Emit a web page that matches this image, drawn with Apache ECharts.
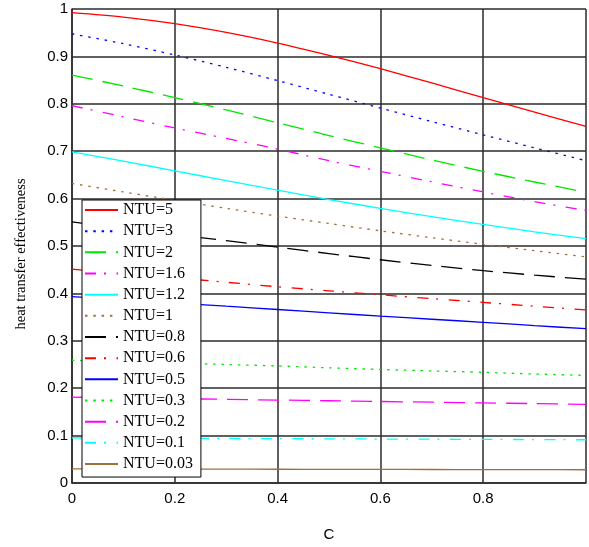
<!DOCTYPE html>
<html>
<head>
<meta charset="utf-8">
<script src="https://cdn.jsdelivr.net/npm/echarts@6/dist/echarts.min.js"></script>
<style>
  html, body { margin: 0; padding: 0; background: #ffffff; }
  #chart { width: 589px; height: 547px; }
</style>
</head>
<body>
<div id="chart"></div>
<script>
// Capacity ratio C (x axis)
const capacityRatio = [0, 0.1, 0.2, 0.3, 0.4, 0.5, 0.6, 0.7, 0.8, 0.9, 1.0];

// Effectiveness for each NTU value
const ntu5   = [0.9925, 0.9830, 0.9690, 0.9505, 0.9280, 0.9020, 0.8740, 0.8440, 0.8130, 0.7825, 0.7525];
const ntu3   = [0.9476, 0.9268, 0.9030, 0.8770, 0.8490, 0.8200, 0.7910, 0.7625, 0.7345, 0.7070, 0.6800];
const ntu2   = [0.8605, 0.8375, 0.8130, 0.7870, 0.7600, 0.7330, 0.7070, 0.6815, 0.6575, 0.6350, 0.6135];
const ntu1_6 = [0.7960, 0.7725, 0.7490, 0.7270, 0.7045, 0.6800, 0.6575, 0.6355, 0.6140, 0.5935, 0.5750];
const ntu1_2 = [0.6985, 0.6790, 0.6585, 0.6380, 0.6180, 0.5980, 0.5795, 0.5620, 0.5455, 0.5300, 0.5155];
const ntu1   = [0.6320, 0.6140, 0.5965, 0.5795, 0.5630, 0.5475, 0.5320, 0.5175, 0.5035, 0.4900, 0.4770];
const ntu0_8 = [0.5507, 0.5370, 0.5240, 0.5115, 0.4975, 0.4840, 0.4710, 0.4590, 0.4480, 0.4385, 0.4300];
const ntu0_6 = [0.4510, 0.4420, 0.4330, 0.4235, 0.4140, 0.4055, 0.3970, 0.3890, 0.3810, 0.3730, 0.3650];
const ntu0_5 = [0.3930, 0.3865, 0.3800, 0.3730, 0.3660, 0.3590, 0.3520, 0.3455, 0.3390, 0.3320, 0.3255];
const ntu0_3 = [0.2590, 0.2560, 0.2530, 0.2500, 0.2470, 0.2430, 0.2395, 0.2365, 0.2335, 0.2300, 0.2270];
const ntu0_2 = [0.1810, 0.1795, 0.1780, 0.1765, 0.1750, 0.1735, 0.1720, 0.1705, 0.1690, 0.1675, 0.1660];
const ntu0_1 = [0.0950, 0.0947, 0.0944, 0.0940, 0.0936, 0.0932, 0.0928, 0.0924, 0.0920, 0.0916, 0.0912];
const ntu0_03 = [0.0298, 0.0296, 0.0294, 0.0292, 0.0290, 0.0288, 0.0287, 0.0285, 0.0283, 0.0281, 0.0280];

const seriesNames = ['NTU=5', 'NTU=3', 'NTU=2', 'NTU=1.6', 'NTU=1.2', 'NTU=1',
  'NTU=0.8', 'NTU=0.6', 'NTU=0.5', 'NTU=0.3', 'NTU=0.2', 'NTU=0.1', 'NTU=0.03'];
const seriesValues = [ntu5, ntu3, ntu2, ntu1_6, ntu1_2, ntu1,
  ntu0_8, ntu0_6, ntu0_5, ntu0_3, ntu0_2, ntu0_1, ntu0_03];

const xTicks = [0, 0.2, 0.4, 0.6, 0.8];
const yTicks = [0, 0.1, 0.2, 0.3, 0.4, 0.5, 0.6, 0.7, 0.8, 0.9, 1];

// Line appearance: colour and dash pattern per curve
const DOT = [2.5, 5.8];
const DASH = [21, 10];
const DASHDOT = [11, 8, 2, 10.5];
const styles = [
  { color: '#ff0000', type: 'solid' },
  { color: '#0000ff', type: DOT },
  { color: '#00e600', type: DASH },
  { color: '#ff00ff', type: DASHDOT },
  { color: '#00ffff', type: 'solid' },
  { color: '#a0703c', type: DOT },
  { color: '#000000', type: DASH },
  { color: '#ff0000', type: DASHDOT },
  { color: '#0000ff', type: 'solid' },
  { color: '#00e600', type: DOT },
  { color: '#ff00ff', type: DASH },
  { color: '#00ffff', type: DASHDOT },
  { color: '#a0703c', type: 'solid' }
];

const tickFont = "'Liberation Sans', Arial, sans-serif";
const serifFont = "'Liberation Serif', 'Times New Roman', serif";
const gridColor = '#2b2b2b';

const series = seriesNames.map((name, i) => ({
  name: name,
  type: 'line',
  data: capacityRatio.map((c, j) => [c, seriesValues[i][j]]),
  symbol: 'none',
  smooth: 0.3,
  z: 3,
  lineStyle: { color: styles[i].color, type: styles[i].type, width: 1.3 },
  itemStyle: { color: styles[i].color }
}));

const chart = echarts.init(document.getElementById('chart'), null, { renderer: 'canvas' });
chart.setOption({
  animation: false,
  backgroundColor: '#ffffff',
  grid: { left: 72, top: 9, width: 516, height: 477, containLabel: false },
  xAxis: {
    type: 'value',
    min: 0, max: 1, interval: 0.2,
    name: 'C',
    nameLocation: 'middle',
    nameGap: 44,
    nameTextStyle: { fontFamily: tickFont, fontSize: 15, color: '#000' },
    axisLine: { show: true, lineStyle: { color: gridColor, width: 1.5 } },
    axisTick: { show: false },
    axisLabel: {
      margin: 8, color: '#000', fontFamily: tickFont, fontSize: 15,
      formatter: v => (xTicks.some(t => Math.abs(t - v) < 1e-9) ? String(+v.toFixed(1)) : '')
    },
    splitLine: { show: true, lineStyle: { color: gridColor, width: 1.5 } }
  },
  yAxis: {
    type: 'value',
    min: 0, max: 1, interval: 0.1,
    axisLine: { show: true, lineStyle: { color: gridColor, width: 1.5 } },
    axisTick: { show: false },
    axisLabel: {
      margin: 4, color: '#000', fontFamily: tickFont, fontSize: 15,
      formatter: v => (yTicks.some(t => Math.abs(t - v) < 1e-9) ? String(+v.toFixed(1)) : '')
    },
    splitLine: { show: true, lineStyle: { color: gridColor, width: 1.5 } }
  },
  legend: {
    data: seriesNames,
    orient: 'vertical',
    left: 82, top: 200,
    itemWidth: 33, itemHeight: 14, itemGap: 5.17,
    padding: [2, 8, 5, 2],
    backgroundColor: '#ffffff',
    borderColor: '#000000', borderWidth: 1,
    selectedMode: false,
    // legend keys show only the line pattern, no marker
    itemStyle: { opacity: 0 },
    textStyle: { fontFamily: serifFont, fontSize: 16, lineHeight: 16, color: '#000' },
    z: 10
  },
  graphic: [{
    type: 'text',
    x: 21, y: 254,
    rotation: Math.PI / 2,
    style: {
      text: 'heat transfer effectiveness',
      font: "14.5px 'Liberation Serif', serif",
      fill: '#000',
      textAlign: 'center',
      textVerticalAlign: 'middle'
    }
  }],
  series: series
});
</script>
</body>
</html>
